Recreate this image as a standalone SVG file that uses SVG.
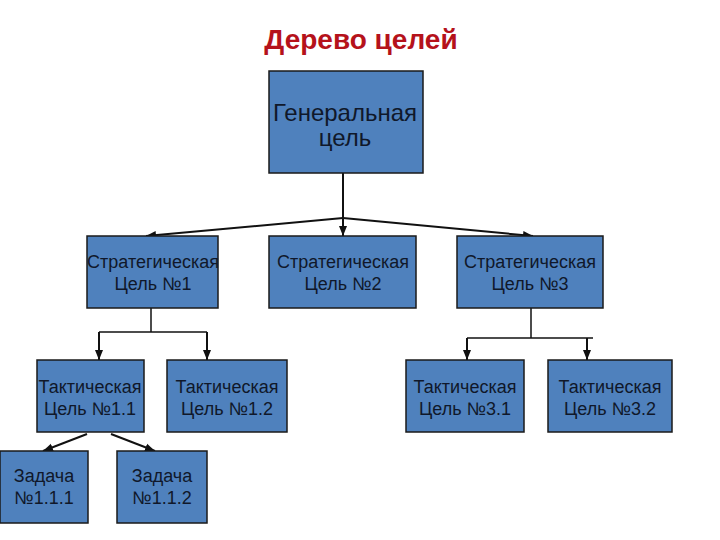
<svg xmlns="http://www.w3.org/2000/svg" width="720" height="540" viewBox="0 0 720 540">
<defs>
<style>
.box{fill:#4F81BD;stroke:#1a1a1a;stroke-width:1.5}
.t{font-family:"Liberation Sans",Arial,sans-serif;font-size:18px;fill:#10182a;text-anchor:middle}
.big{font-size:24px}
.title{font-family:"Liberation Sans",Arial,sans-serif;font-size:28px;font-weight:bold;fill:#B5121B;text-anchor:middle}
.c{stroke:#111;stroke-width:1.5;fill:none}
.a{stroke:#111;stroke-width:2;fill:none;marker-end:url(#ah)}
</style>
<marker id="ah" markerWidth="10" markerHeight="10" viewBox="0 0 10 10" refX="10" refY="5" markerUnits="userSpaceOnUse" orient="auto">
<path d="M0,1 L10,5 L0,9 Z" fill="#111"/>
</marker>
</defs>
<rect width="720" height="540" fill="#fff"/>
<text class="title" x="361" y="49">Дерево целей</text>

<g id="connectors">
<line class="a" x1="343" y1="173" x2="343" y2="236"/>
<line class="a" x1="343" y1="218" x2="146" y2="236"/>
<line class="a" x1="343" y1="218" x2="533" y2="236"/>
<line class="c" x1="151" y1="308" x2="151" y2="332"/>
<line class="c" x1="99" y1="332" x2="207" y2="332"/>
<line class="a" x1="99" y1="332" x2="99" y2="360"/>
<line class="a" x1="207" y1="332" x2="207" y2="360"/>
<line class="c" x1="531" y1="308" x2="531" y2="338"/>
<line class="c" x1="467" y1="338" x2="593" y2="338"/>
<line class="a" x1="467" y1="338" x2="467" y2="360"/>
<line class="a" x1="587" y1="338" x2="587" y2="360"/>
<line class="a" x1="87" y1="434" x2="43" y2="451"/>
<line class="a" x1="111" y1="434" x2="155" y2="451"/>
</g>

<g id="general">
<rect class="box" x="269" y="71" width="154" height="102"/>
<text class="t big" x="345" y="121">Генеральная</text>
<text class="t big" x="345" y="146">цель</text>
</g>

<g id="strat1">
<rect class="box" x="87" y="236" width="131" height="72"/>
<text class="t" x="153" y="268">Стратегическая</text>
<text class="t" x="153" y="290">Цель №1</text>
</g>
<g id="strat2">
<rect class="box" x="269" y="236" width="147" height="72"/>
<text class="t" x="343" y="268">Стратегическая</text>
<text class="t" x="343" y="290">Цель №2</text>
</g>
<g id="strat3">
<rect class="box" x="457" y="236" width="146" height="72"/>
<text class="t" x="530" y="268">Стратегическая</text>
<text class="t" x="530" y="290">Цель №3</text>
</g>

<g id="tact11">
<rect class="box" x="37" y="360" width="107" height="72"/>
<text class="t" x="90" y="393">Тактическая</text>
<text class="t" x="90" y="415">Цель №1.1</text>
</g>
<g id="tact12">
<rect class="box" x="167" y="360" width="120" height="72"/>
<text class="t" x="227" y="393">Тактическая</text>
<text class="t" x="227" y="415">Цель №1.2</text>
</g>
<g id="tact31">
<rect class="box" x="406" y="360" width="118" height="72"/>
<text class="t" x="465" y="393">Тактическая</text>
<text class="t" x="465" y="415">Цель №3.1</text>
</g>
<g id="tact32">
<rect class="box" x="548" y="360" width="124" height="72"/>
<text class="t" x="610" y="393">Тактическая</text>
<text class="t" x="610" y="415">Цель №3.2</text>
</g>

<g id="task111">
<rect class="box" x="0" y="451" width="88" height="72"/>
<text class="t" x="44" y="482">Задача</text>
<text class="t" x="44" y="504">№1.1.1</text>
</g>
<g id="task112">
<rect class="box" x="117" y="451" width="90" height="72"/>
<text class="t" x="162" y="482">Задача</text>
<text class="t" x="162" y="504">№1.1.2</text>
</g>
</svg>
